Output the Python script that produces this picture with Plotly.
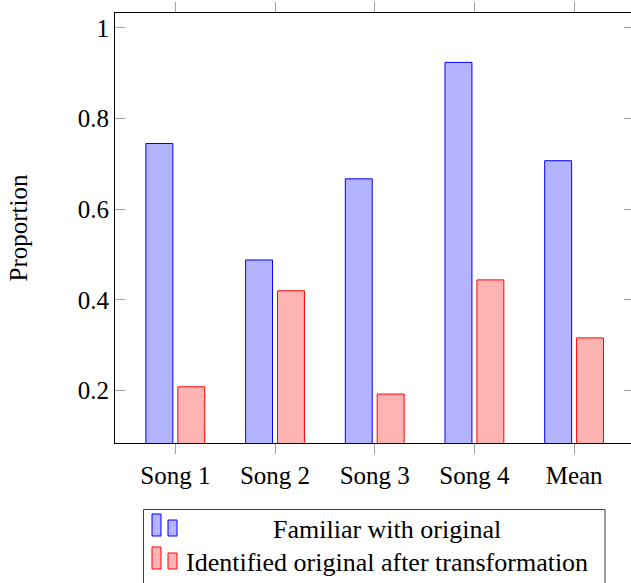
import plotly.graph_objects as go

categories = ["Song 1", "Song 2", "Song 3", "Song 4", "Mean"]
familiar = [0.745, 0.488, 0.667, 0.924, 0.707]
identified = [0.208, 0.420, 0.192, 0.444, 0.316]
series_names = ["Familiar with original", "Identified original after transformation"]
y_ticks = [0.2, 0.4, 0.6, 0.8, 1.0]
y_tick_labels = ["0.2", "0.4", "0.6", "0.8", "1"]

W, H = 634, 583   # slightly wider than the window: right frame edge is cut off as in the reference
L, R, T, B = 115, 0, 13, 140
PW, PH = W - L - R, H - T - B

def px(x):
    return (x - L) / PW

def py(y):
    return (H - B - y) / PH

FONT = "Liberation Serif, Times New Roman, Times, serif"
FS = 25
BLUE_F, BLUE_L = "rgb(179,179,255)", "rgb(0,0,255)"
RED_F, RED_L = "rgb(255,179,179)", "rgb(255,0,0)"

fig = go.Figure()
fig.add_trace(go.Bar(x=categories, y=familiar, name=series_names[0],
                     marker=dict(color=BLUE_F, line=dict(color=BLUE_L, width=1))))
fig.add_trace(go.Bar(x=categories, y=identified, name=series_names[1],
                     marker=dict(color=RED_F, line=dict(color=RED_L, width=1))))

fig.update_layout(
    width=W, height=H,
    margin=dict(l=L, r=R, t=T, b=B, pad=0, autoexpand=False),
    paper_bgcolor="white", plot_bgcolor="white",
    barmode="group", bargap=0.36, bargroupgap=0.156,
    showlegend=False,
    font=dict(family=FONT, size=FS, color="black"),
)
fig.update_xaxes(
    range=[-0.605, -0.605 + PW / 99.7], showgrid=False, zeroline=False, automargin=False,
    showline=True, linecolor="black", linewidth=1, mirror="allticks",
    ticks="outside", ticklen=10, tickcolor="rgb(160,160,160)", tickwidth=1,
    tickfont=dict(family=FONT, size=FS),
)
fig.update_yaxes(
    range=[0.084, 1.033], showgrid=False, zeroline=False, automargin=False,
    showline=True, linecolor="black", linewidth=1, mirror="allticks",
    ticks="inside", ticklen=10, tickcolor="rgb(160,160,160)", tickwidth=1,
    tickvals=y_ticks, ticktext=y_tick_labels,
    tickfont=dict(family=FONT, size=FS),
    title=dict(text="Proportion", font=dict(family=FONT, size=FS), standoff=43),
)

# custom legend (centered text, pgfplots style)
shapes = [dict(type="rect", xref="paper", yref="paper",
               x0=px(143.5), x1=px(605), y0=py(509.5), y1=py(600),
               line=dict(color="rgb(60,60,60)", width=1), fillcolor="white")]
rows = [(BLUE_F, BLUE_L, 514, 536, 529), (RED_F, RED_L, 547, 569, 562)]
for (fc, lc, top, bot, ty), name in zip(rows, series_names):
    shapes.append(dict(type="rect", xref="paper", yref="paper",
                       x0=px(152), x1=px(161), y0=py(bot), y1=py(top),
                       fillcolor=fc, line=dict(color=lc, width=1)))
    shapes.append(dict(type="rect", xref="paper", yref="paper",
                       x0=px(168), x1=px(177), y0=py(bot), y1=py(top + 6),
                       fillcolor=fc, line=dict(color=lc, width=1)))
    fig.add_annotation(text=name, xref="paper", yref="paper",
                       x=px(387), y=py(ty), xanchor="center", yanchor="middle",
                       showarrow=False, font=dict(family=FONT, size=26, color="black"))
fig.update_layout(shapes=shapes)

fig.write_html(
    "out.html",
    config={"displayModeBar": False},
    post_script="document.body.style.margin='0';document.body.style.overflow='hidden';",
)
